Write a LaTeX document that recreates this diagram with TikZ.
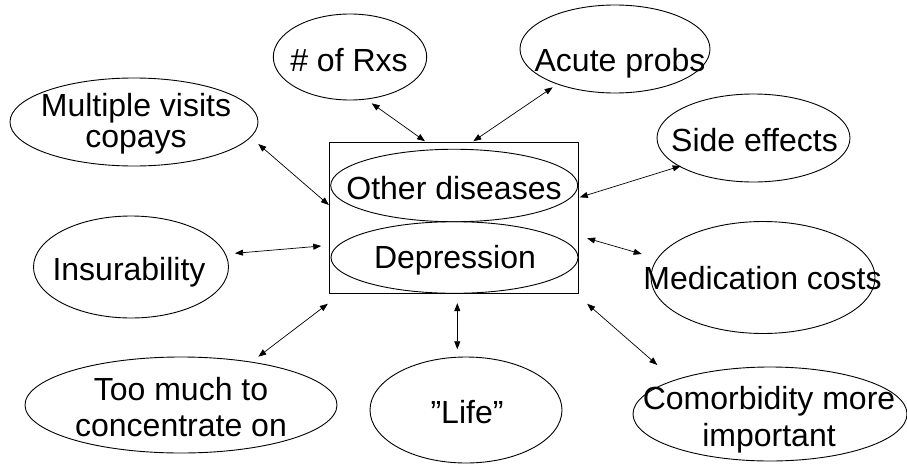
\documentclass[tikz,border=0pt]{standalone}
\usepackage{fontspec}
\setmainfont{Liberation Sans}
\usetikzlibrary{shapes.geometric,arrows.meta}
\begin{document}
\begin{tikzpicture}[x=1pt,y=-1pt,
  oval/.style={ellipse,draw,line width=0.9pt,inner sep=0pt},
  frame/.style={rectangle,draw,line width=0.9pt,inner sep=0pt},
  txt/.style={font=\fontsize{32}{37}\selectfont,anchor=base,inner sep=0pt,align=center},
  link/.style={{Triangle[length=8pt,width=6pt]}-{Triangle[length=8pt,width=6pt]},line width=0.7pt}]
\useasboundingbox (0,0) rectangle (907,463);
% central box
\node[frame,minimum width=249pt,minimum height=151pt] (box) at (453.8,217.8) {};
\node[oval,minimum width=247pt,minimum height=72.5pt] (od) at (454.2,185.5) {};
\node[oval,minimum width=247pt,minimum height=71.6pt] (dep) at (454.5,257.5) {};
\node[txt] (odt) at (454,199) {Other diseases};
\node[txt] (dept) at (455,268.3) {Depression};
% outer ellipses
\node[oval,minimum width=153.4pt,minimum height=86pt] (rx) at (350,57) {};
\node[txt] (rxt) at (349,71.5) {\# of Rxs};
\node[oval,minimum width=190pt,minimum height=88pt] (ap) at (615,49) {};
\node[txt] (apt) at (620,71.5) {Acute probs};
\node[oval,minimum width=193pt,minimum height=88pt] (se) at (753.5,138) {};
\node[txt] (set) at (754.5,151) {Side effects};
\node[oval,minimum width=224pt,minimum height=112pt] (mc) at (763,277.5) {};
\node[txt] (mct) at (762.5,289) {Medication costs};
\node[oval,minimum width=274pt,minimum height=94pt] (cm) at (770,414) {};
\node[txt] (cmt) at (769,446.7) {Comorbidity more\\important};
\node[oval,minimum width=192pt,minimum height=106pt] (life) at (466,410) {};
\node[txt] (lifet) at (467,423.3) {”Life”};
\node[oval,minimum width=312pt,minimum height=96pt] (too) at (181,405) {};
\node[txt,font=\fontsize{32}{36.5}\selectfont] (toot) at (181,436.5) {Too much to\\concentrate on};
\node[oval,minimum width=195pt,minimum height=102pt] (ins) at (131,267) {};
\node[txt] (inst) at (129,280) {Insurability};
\node[oval,minimum width=248pt,minimum height=88pt] (mv) at (134,122) {};
\node[txt,font=\fontsize{32}{31.5}\selectfont] (mvt) at (136,147.5) {Multiple visits\\copays};
% connectors
\draw[link] ([shift={(21.7,46.3)}]rx.center) -- ([shift={(-28.8,-0.6)}]box.north);
\draw[link] ([shift={(-62.3,38.3)}]ap.center) -- ([shift={(19.5,-0.6)}]box.north);
\draw[link] ([shift={(-72.8,28)}]se.center) -- ([shift={(1,-20.5)}]box.east);
\draw[link] ([shift={(-121.3,-23.5)}]mc.center) -- ([shift={(8.4,20.5)}]box.east);
\draw[link] ([shift={(-112.7,-49)}]cm.center) -- ([shift={(8.4,10)}]box.south east);
\draw[link] ([shift={(-8.7,-60.7)}]life.center) -- ([shift={(3.5,9.4)}]box.south);
\draw[link] ([shift={(77.3,-48.3)}]too.center) -- ([shift={(-1,10)}]box.south west);
\draw[link] ([shift={(104,-13.7)}]ins.center) -- ([shift={(-7.6,28.2)}]box.west);
\draw[link] ([shift={(124.3,22)}]mv.center) -- ([shift={(0,-12.8)}]box.west);
\end{tikzpicture}
\end{document}
